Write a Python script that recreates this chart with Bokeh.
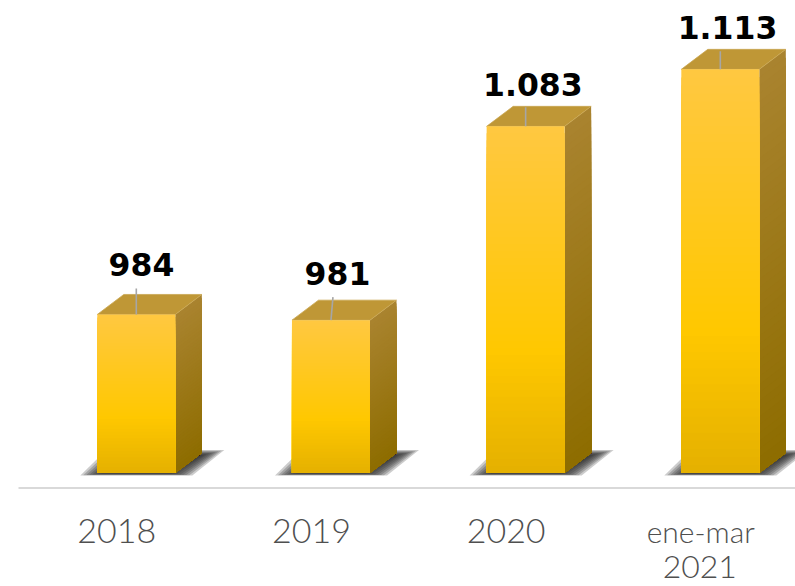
from bokeh.plotting import figure
from bokeh.core.properties import value
from bokeh.embed import file_html
from bokeh.resources import INLINE

categories = ["2018", "2019", "2020", "ene-mar", "2021"]
values = [984, 981, 1083, 1113]
value_labels = ["984", "981", "1.083", "1.113"]

W, H = 795, 586
PXX, PXY = 194.67, 1.9   # pixels per x unit / per y unit
BASE = 900.5
C0 = 135.8
x0 = (0 - C0) / PXX
x1 = (795 - C0) / PXX
y1 = BASE + 472.6 / PXY
y0 = BASE - (586 - 472.6) / PXY

p = figure(width=W, height=H, output_backend="svg", toolbar_location=None,
           x_range=(x0, x1), y_range=(y0, y1),
           min_border=0,
           background_fill_color="white", border_fill_color="white", outline_line_color=None)
p.grid.visible = False
p.axis.visible = False

def lerp(a, b, t):
    return tuple(a[i] + (b[i] - a[i]) * t for i in range(3))

def front_col(t):
    a, b, c = (255, 201, 65), (255, 200, 0), (229, 177, 0)
    r = lerp(a, b, t / 0.65) if t < 0.65 else lerp(b, c, (t - 0.65) / 0.35)
    return "#%02x%02x%02x" % tuple(int(v) for v in r)

def side_col(t):
    return "#%02x%02x%02x" % tuple(int(v) for v in lerp((170, 132, 48), (142, 109, 0), t))

HALF = 39 / PXX
DX, DY = 26.5 / PXX, 20 / PXY

# baseline
p.segment(x0=[(18 - C0) / PXX], x1=[x1], y0=[BASE - 15 / PXY], y1=[BASE - 15 / PXY],
          line_color="#D9D9D9", line_width=2)

# shadows
for i, v in enumerate(values):
    for k in range(8):
        ins = k * 3.0
        top = 23 - k * 0.7
        bot = -2.5 + k * 0.3
        xs = [(-56 + ins) / PXX, (56 - ins) / PXX, (88 - ins) / PXX, (-30 + ins) / PXX]
        ys = [bot / PXY, bot / PXY, top / PXY, top / PXY]
        p.patch([i + a for a in xs], [BASE + b for b in ys], fill_color="#2A2A2A",
                fill_alpha=0.24, line_color=None)

N = 50
for i, v in enumerate(values):
    h = v - BASE
    left, right = i - HALF, i + HALF
    tops = [v - h * k / N for k in range(N)]
    cols = [front_col((k + .5) / N) for k in range(N)]
    scols = [side_col((k + .5) / N) for k in range(N)]
    # each slice runs down to the base; the next one paints over it, so no seams show
    p.patches([[right, right + DX, right + DX, right] for _ in range(N)],
              [[t, t + DY, BASE + DY, BASE] for t in tops],
              fill_color=scols, line_color=None)
    p.patch([left, right, right + DX, left + DX], [v, v, v + DY, v + DY],
            fill_color="#BF9736", line_color="#C9A650", line_width=0.8)
    p.quad(left=left, right=right, top=tops, bottom=BASE, fill_color=cols, line_color=None)

# leader lines and value labels
lead = [26, 23, 19, 18]
lead_dx = [0, 2, 0, 0]
lab_dx = [5.2, 6.5, 7.2, 7.2]
lab_dy = [50, 47, 41.5, 41.5]
p.segment(x0=[i for i in range(4)], y0=values,
          x1=[i + d / PXX for i, d in enumerate(lead_dx)],
          y1=[v + l / PXY for v, l in zip(values, lead)],
          line_color="#A6A6A6", line_width=1.6)
p.text(x=[i + d / PXX for i, d in enumerate(lab_dx)],
       y=[v + d / PXY for v, d in zip(values, lab_dy)],
       text=value_labels, text_align="center", text_baseline="middle",
       text_font=value("DejaVu Sans"), text_font_style="bold", text_font_size="31.5px", text_color="black")

# category labels
FONT = value("'Lato Light', Lato")
p.text(x=[0, 1, 2], y=[BASE - (531 - 473) / PXY] * 3, text=categories[:3],
       x_offset=[-19.5] * 3,
       text_align="center", text_baseline="middle",
       text_font=FONT, text_font_size="34px", text_color="#4F4F4F")
p.text(x=[3], y=[BASE - (531 - 473) / PXY], text=[categories[3]], x_offset=[-19.5],
       text_align="center", text_baseline="middle",
       text_font=FONT, text_font_size="30px", text_color="#4F4F4F")
p.text(x=[3], y=[BASE - (567 - 473) / PXY], text=[categories[4]], x_offset=[-20.5],
       text_align="center", text_baseline="middle",
       text_font=FONT, text_font_size="32px", text_color="#4F4F4F")

open("out.html", "w").write(file_html(p, INLINE))
